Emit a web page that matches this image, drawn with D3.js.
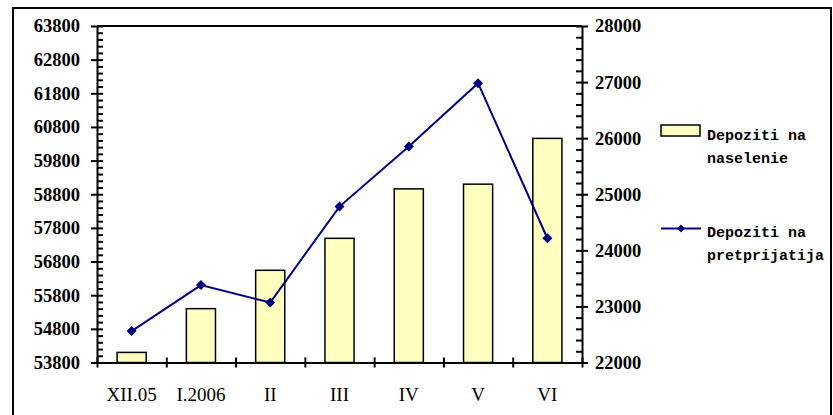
<!DOCTYPE html>
<html>
<head>
<meta charset="utf-8">
<script src="https://cdn.jsdelivr.net/npm/d3@7"></script>
<style>
  body { margin: 0; background: #fff; }
</style>
</head>
<body>
<div id="chart-area"></div>
<script>
// Data
var categories = ["XII.05", "I.2006", "II", "III", "IV", "V", "VI"];
var naselenie = [54100, 55400, 56540, 57490, 58960, 59100, 60460];
var pretprijatija = [22560, 23380, 23070, 24780, 25850, 26980, 24215];
var leftTicks = [53800, 54800, 55800, 56800, 57800, 58800, 59800, 60800, 61800, 62800, 63800];
var rightTicks = [22000, 23000, 24000, 25000, 26000, 27000, 28000];
var seriesNames = [["Depoziti na", "naselenie"], ["Depoziti na", "pretprijatija"]];

var W = 833, H = 415;
var margin = { left: 97, right: 251, top: 26, bottom: 52.5 },
    width = W - margin.left - margin.right,
    height = H - margin.top - margin.bottom;

var serif = "'Liberation Serif', 'Times New Roman', serif";

var svg = d3.select("#chart-area")
    .append("svg")
    .attr("width", W)
    .attr("height", H);

// outer frame
svg.append("rect")
    .attr("x", 13).attr("y", 8)
    .attr("width", 818).attr("height", 420)
    .attr("fill", "none")
    .attr("stroke", "#000")
    .attr("stroke-width", 2);

var g = svg.append("g")
    .attr("transform", "translate(" + margin.left + "," + margin.top + ")");

// Scales
var x = d3.scaleBand().domain(categories).range([0, width])
    .paddingInner(0.58).paddingOuter(0.29);
var yL = d3.scaleLinear().domain([53800, 63800]).range([height, 0]);
var yR = d3.scaleLinear().domain([22000, 28000]).range([height, 0]);

// top border of plot area
g.append("line")
    .attr("x1", 0).attr("x2", width)
    .attr("y1", 0).attr("y2", 0)
    .attr("stroke", "#000").attr("stroke-width", 2);

// Bars
g.selectAll("rect.bar")
    .data(naselenie)
    .enter().append("rect")
    .attr("class", "bar")
    .attr("x", function(d, i) { return x(categories[i]); })
    .attr("width", x.bandwidth())
    .attr("y", function(d) { return yL(d); })
    .attr("height", function(d) { return height - yL(d); })
    .attr("fill", "#FFFFC0")
    .attr("stroke", "#000")
    .attr("stroke-width", 1.5);

function styleAxis(sel) {
    sel.attr("font-family", serif).attr("font-size", "18.5px").attr("font-weight", "bold");
    sel.selectAll("line, path").attr("stroke", "#000").attr("stroke-width", 2);
    sel.selectAll("text")
        .attr("font-family", serif)
        .attr("font-weight", "bold")
        .attr("font-size", "18.5px")
        .attr("fill", "#000");
}

// Left axis (minor + major)
var lMinor = g.append("g")
    .call(d3.axisLeft(yL).tickValues(d3.range(53800, 63801, 200)).tickSize(-6).tickFormat(""));
lMinor.select(".domain").remove();
styleAxis(lMinor);
var lAxis = g.append("g")
    .call(d3.axisLeft(yL).tickValues(leftTicks).tickSize(6).tickPadding(11).tickSizeOuter(0).tickFormat(d3.format("d")));
styleAxis(lAxis);

// Right axis (minor + major)
var rMinor = g.append("g")
    .attr("transform", "translate(" + width + ",0)")
    .call(d3.axisRight(yR).tickValues(d3.range(22000, 28001, 200)).tickSize(-6).tickFormat(""));
rMinor.select(".domain").remove();
styleAxis(rMinor);
var rAxis = g.append("g")
    .attr("transform", "translate(" + width + ",0)")
    .call(d3.axisRight(yR).tickValues(rightTicks).tickSize(6).tickPadding(7).tickSizeOuter(0).tickFormat(d3.format("d")));
styleAxis(rAxis);

// Bottom axis with category boundary ticks
var xb = d3.scaleLinear().domain([0, categories.length]).range([0, width]);
var xAxis = g.append("g")
    .attr("transform", "translate(0," + height + ")")
    .call(d3.axisBottom(xb).ticks(categories.length).tickSize(5).tickSizeOuter(0).tickFormat(""));
xAxis.selectAll(".tick line").attr("y1", -5);
styleAxis(xAxis);

g.selectAll("text.xlabel")
    .data(categories)
    .enter().append("text")
    .attr("class", "xlabel")
    .attr("x", function(d) { return x(d) + x.bandwidth() / 2; })
    .attr("y", height + 38.5)
    .attr("text-anchor", "middle")
    .attr("font-family", serif)
    .attr("font-size", "19px")
    .text(function(d) { return d; });

// Line
var line = d3.line()
    .x(function(d, i) { return x(categories[i]) + x.bandwidth() / 2; })
    .y(function(d) { return yR(d); });
g.append("path")
    .datum(pretprijatija)
    .attr("fill", "none")
    .attr("stroke", "#000080")
    .attr("stroke-width", 2)
    .attr("d", line);

var diamond = d3.symbol().type(d3.symbolSquare).size(50);
g.selectAll("path.pt")
    .data(pretprijatija)
    .enter().append("path")
    .attr("class", "pt")
    .attr("d", diamond)
    .attr("fill", "#000080")
    .attr("transform", function(d, i) {
        return "translate(" + (x(categories[i]) + x.bandwidth() / 2) + "," + yR(d) + ") rotate(45)";
    });

// Legend
var legend = svg.append("g");
legend.append("rect")
    .attr("x", 661).attr("y", 125)
    .attr("width", 39).attr("height", 11)
    .attr("fill", "#FFFFC0")
    .attr("stroke", "#000")
    .attr("stroke-width", 1.5);
legend.append("line")
    .attr("x1", 661).attr("x2", 701)
    .attr("y1", 228.5).attr("y2", 228.5)
    .attr("stroke", "#000080").attr("stroke-width", 2);
legend.append("path")
    .attr("d", d3.symbol().type(d3.symbolSquare).size(32))
    .attr("fill", "#000080")
    .attr("transform", "translate(681,228.5) rotate(45)");

var legendY = [140, 237];
seriesNames.forEach(function(lines, k) {
    lines.forEach(function(s, j) {
        legend.append("text")
            .attr("x", 707)
            .attr("y", legendY[k] + j * 23)
            .attr("font-family", "'Liberation Mono', 'Courier New', monospace")
            .attr("font-weight", "bold")
            .attr("font-size", "15px")
            .text(s);
    });
});
</script>
</body>
</html>
